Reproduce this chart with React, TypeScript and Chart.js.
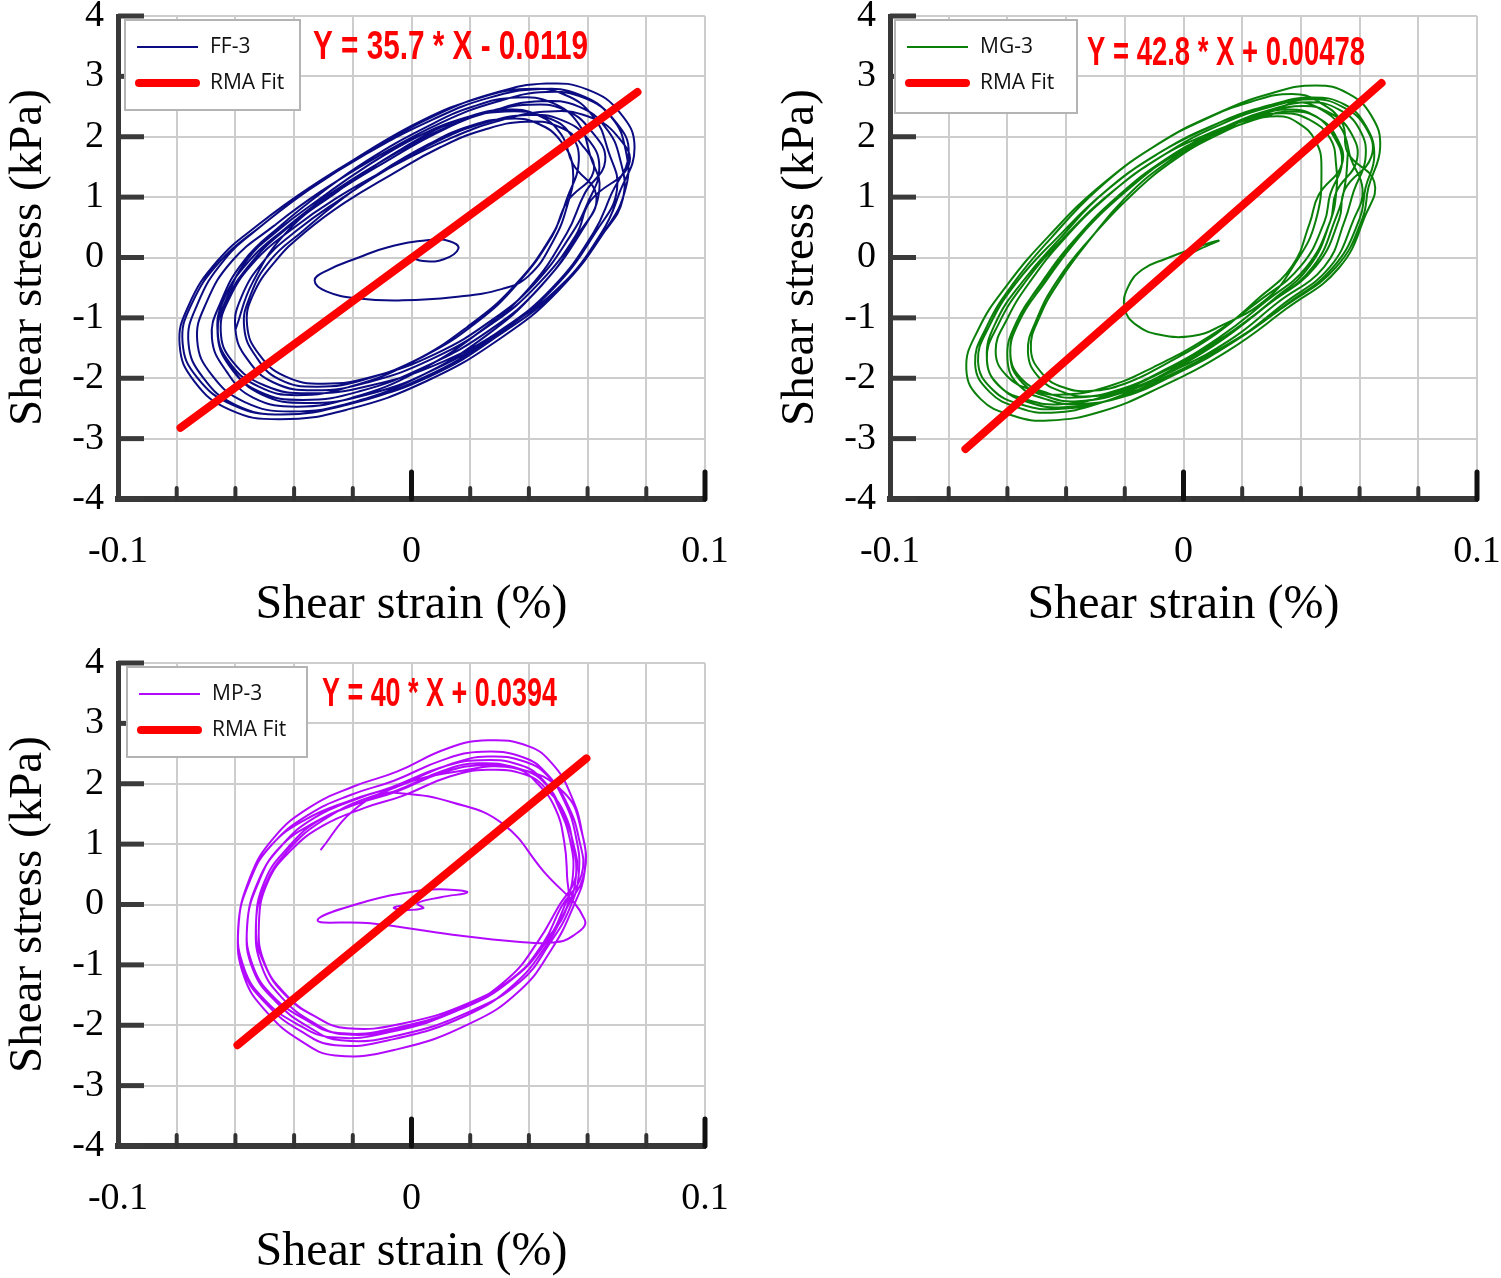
import React, { useEffect, useRef } from "react";
import { Chart, registerables } from "chart.js";

Chart.register(...registerables);

// ---------- axis ticks ----------
const xTickLabels = [-0.1, 0, 0.1];
const yTickValues = [-4, -3, -2, -1, 0, 1, 2, 3, 4];
const xMinorStubs = [-0.08, -0.06, -0.04, -0.02, 0.02, 0.04, 0.06, 0.08];
const xMajorStubs = [0, 0.1];

// ---------- FF-3 ----------
const ff3Start = [[0.0,0.0],[0.004,-0.06],[0.011,-0.03],[0.016,0.15],[0.013,0.27],[0.006,0.29],[-0.008,0.17],[-0.018,0.0],[-0.029,-0.22],[-0.033,-0.38],[-0.029,-0.56],[-0.018,-0.68],[-0.003,-0.71],[0.014,-0.66],[0.031,-0.52],[0.040,-0.30],[0.048,0.25],[0.053,0.85]];
const ff3Loop1 = [[0.076,1.82],[0.071,2.40],[0.060,2.78],[0.046,2.88],[0.028,2.72],[0.008,2.35],[-0.015,1.75],[-0.035,1.15],[-0.052,0.55],[-0.066,-0.05],[-0.076,-0.80],[-0.079,-1.45],[-0.074,-2.05],[-0.062,-2.52],[-0.045,-2.68],[-0.022,-2.52],[0.005,-2.05],[0.030,-1.35],[0.050,-0.55],[0.066,0.45],[0.073,1.15]];
const ff3Loop2 = [[0.074,1.73],[0.069,2.28],[0.059,2.64],[0.046,2.74],[0.029,2.58],[0.010,2.23],[-0.012,1.66],[-0.031,1.09],[-0.047,0.52],[-0.061,-0.05],[-0.070,-0.76],[-0.073,-1.38],[-0.068,-1.95],[-0.057,-2.39],[-0.041,-2.55],[-0.019,-2.39],[0.007,-1.95],[0.030,-1.28],[0.050,-0.52],[0.065,0.43],[0.071,1.09]];
const ff3Loop3 = [[0.067,1.77],[0.062,2.33],[0.052,2.70],[0.039,2.79],[0.023,2.64],[0.004,2.28],[-0.017,1.70],[-0.035,1.12],[-0.051,0.53],[-0.064,-0.05],[-0.073,-0.78],[-0.076,-1.41],[-0.071,-1.99],[-0.060,-2.44],[-0.044,-2.60],[-0.023,-2.44],[0.002,-1.99],[0.025,-1.31],[0.043,-0.53],[0.058,0.44],[0.064,1.12]];
const ff3Loop4 = [[0.071,1.64],[0.066,2.16],[0.057,2.50],[0.044,2.59],[0.029,2.45],[0.011,2.12],[-0.009,1.58],[-0.027,1.04],[-0.042,0.50],[-0.054,-0.05],[-0.063,-0.72],[-0.066,-1.31],[-0.061,-1.85],[-0.051,-2.27],[-0.036,-2.41],[-0.015,-2.27],[0.008,-1.85],[0.030,-1.22],[0.048,-0.50],[0.062,0.41],[0.068,1.04]];
const ff3Loop5 = [[0.066,1.60],[0.061,2.11],[0.052,2.45],[0.040,2.53],[0.025,2.39],[0.008,2.07],[-0.012,1.54],[-0.029,1.01],[-0.043,0.48],[-0.055,-0.04],[-0.064,-0.70],[-0.066,-1.28],[-0.062,-1.80],[-0.052,-2.22],[-0.037,-2.36],[-0.018,-2.22],[0.005,-1.80],[0.027,-1.19],[0.044,-0.48],[0.057,0.40],[0.063,1.01]];
const ff3Loop6 = [[0.064,1.49],[0.060,1.97],[0.051,2.28],[0.040,2.36],[0.025,2.23],[0.009,1.93],[-0.009,1.44],[-0.025,0.94],[-0.039,0.45],[-0.050,-0.04],[-0.058,-0.66],[-0.060,-1.19],[-0.056,-1.68],[-0.047,-2.07],[-0.033,-2.20],[-0.015,-2.07],[0.007,-1.68],[0.027,-1.11],[0.043,-0.45],[0.056,0.37],[0.061,0.94]];
const ff3Loop7 = [[0.055,1.55],[0.051,2.04],[0.043,2.36],[0.032,2.45],[0.018,2.31],[0.002,2.00],[-0.016,1.49],[-0.031,0.98],[-0.045,0.47],[-0.056,-0.04],[-0.063,-0.68],[-0.066,-1.23],[-0.062,-1.74],[-0.052,-2.14],[-0.039,-2.28],[-0.021,-2.14],[0.000,-1.74],[0.019,-1.15],[0.035,-0.47],[0.048,0.38],[0.053,0.98]];
const ff3Loop8 = [[0.055,1.46],[0.051,1.92],[0.043,2.22],[0.033,2.30],[0.020,2.18],[0.006,1.88],[-0.011,1.40],[-0.025,0.92],[-0.037,0.44],[-0.048,-0.04],[-0.055,-0.64],[-0.057,-1.16],[-0.053,-1.64],[-0.045,-2.02],[-0.032,-2.14],[-0.016,-2.02],[0.004,-1.64],[0.022,-1.08],[0.036,-0.44],[0.048,0.36],[0.053,0.92]];
const ff3Loop9 = [[0.073,1.77],[0.068,2.33],[0.057,2.70],[0.044,2.79],[0.026,2.64],[0.007,2.28],[-0.016,1.70],[-0.035,1.12],[-0.051,0.53],[-0.065,-0.05],[-0.075,-0.78],[-0.078,-1.41],[-0.073,-1.99],[-0.061,-2.44],[-0.045,-2.60],[-0.022,-2.44],[0.004,-1.99],[0.028,-1.31],[0.048,-0.53],[0.063,0.44],[0.070,1.12]];
const ff3Loop10 = [[0.074,1.53],[0.070,2.02],[0.060,2.34],[0.047,2.42],[0.031,2.28],[0.013,1.97],[-0.008,1.47],[-0.026,0.97],[-0.041,0.46],[-0.053,-0.04],[-0.062,-0.67],[-0.065,-1.22],[-0.061,-1.72],[-0.050,-2.12],[-0.035,-2.25],[-0.014,-2.12],[0.011,-1.72],[0.033,-1.13],[0.051,-0.46],[0.065,0.38],[0.072,0.97]];
const ff3Loop11 = [[0.061,1.67],[0.057,2.21],[0.048,2.56],[0.036,2.65],[0.021,2.50],[0.005,2.16],[-0.015,1.61],[-0.031,1.06],[-0.045,0.51],[-0.057,-0.05],[-0.065,-0.74],[-0.068,-1.33],[-0.063,-1.89],[-0.054,-2.32],[-0.039,-2.47],[-0.020,-2.32],[0.002,-1.89],[0.023,-1.24],[0.040,-0.51],[0.053,0.41],[0.059,1.06]];
const ff3Loop12 = [[0.062,1.42],[0.058,1.87],[0.050,2.17],[0.039,2.25],[0.025,2.12],[0.010,1.83],[-0.007,1.37],[-0.023,0.90],[-0.036,0.43],[-0.046,-0.04],[-0.054,-0.62],[-0.056,-1.13],[-0.052,-1.60],[-0.043,-1.97],[-0.030,-2.09],[-0.013,-1.97],[0.008,-1.60],[0.027,-1.05],[0.042,-0.43],[0.054,0.35],[0.060,0.90]];
const ff3End = [[0.057,1.60],[0.054,2.05],[0.046,2.32],[0.032,2.42],[0.015,2.25],[-0.005,1.75],[-0.025,1.10],[-0.042,0.45],[-0.054,-0.40],[-0.060,-1.20]];
const ff3Fit = [[-0.0787,-2.82],[0.077,2.74]];

// ---------- MG-3 ----------
const mg3Start = [[0.0,0.0],[0.006,0.15],[0.012,0.28],[0.004,0.16],[-0.006,-0.02],[-0.014,-0.20],[-0.019,-0.50],[-0.020,-0.85],[-0.016,-1.12],[-0.008,-1.28],[0.003,-1.30],[0.012,-1.15],[0.028,-0.70],[0.038,-0.10],[0.045,0.60]];
const mg3Loop1 = [[0.067,1.82],[0.064,2.35],[0.056,2.72],[0.045,2.85],[0.030,2.72],[0.012,2.40],[-0.008,1.90],[-0.028,1.20],[-0.046,0.35],[-0.060,-0.45],[-0.070,-1.20],[-0.074,-1.85],[-0.069,-2.35],[-0.058,-2.62],[-0.046,-2.70],[-0.028,-2.55],[-0.008,-2.15],[0.015,-1.55],[0.035,-0.85],[0.053,-0.17],[0.062,0.70],[0.065,1.25]];
const mg3Loop2 = [[0.064,1.67],[0.062,2.16],[0.054,2.50],[0.044,2.62],[0.030,2.50],[0.013,2.21],[-0.005,1.75],[-0.024,1.10],[-0.041,0.32],[-0.054,-0.41],[-0.063,-1.10],[-0.067,-1.70],[-0.062,-2.16],[-0.052,-2.41],[-0.041,-2.48],[-0.024,-2.35],[-0.005,-1.98],[0.016,-1.43],[0.035,-0.78],[0.051,-0.16],[0.060,0.64],[0.062,1.15]];
const mg3Loop3 = [[0.057,1.64],[0.054,2.12],[0.047,2.45],[0.038,2.57],[0.024,2.45],[0.009,2.16],[-0.009,1.71],[-0.027,1.08],[-0.042,0.32],[-0.055,-0.41],[-0.064,-1.08],[-0.067,-1.67],[-0.063,-2.12],[-0.053,-2.36],[-0.042,-2.43],[-0.027,-2.30],[-0.009,-1.94],[0.011,-1.40],[0.029,-0.77],[0.045,-0.15],[0.053,0.63],[0.055,1.13]];
const mg3Loop4 = [[0.059,1.60],[0.057,2.07],[0.050,2.39],[0.041,2.51],[0.028,2.39],[0.013,2.11],[-0.004,1.67],[-0.021,1.06],[-0.036,0.31],[-0.047,-0.40],[-0.056,-1.06],[-0.059,-1.63],[-0.055,-2.07],[-0.046,-2.31],[-0.036,-2.38],[-0.021,-2.24],[-0.004,-1.89],[0.016,-1.36],[0.032,-0.75],[0.048,-0.15],[0.055,0.62],[0.058,1.10]];
const mg3Loop5 = [[0.054,1.57],[0.051,2.02],[0.045,2.34],[0.036,2.45],[0.024,2.34],[0.010,2.06],[-0.006,1.63],[-0.022,1.03],[-0.037,0.30],[-0.048,-0.39],[-0.056,-1.03],[-0.059,-1.59],[-0.055,-2.02],[-0.046,-2.25],[-0.037,-2.32],[-0.022,-2.19],[-0.006,-1.85],[0.012,-1.33],[0.028,-0.73],[0.042,-0.15],[0.050,0.60],[0.052,1.08]];
const mg3Loop6 = [[0.054,1.55],[0.052,2.00],[0.046,2.31],[0.037,2.42],[0.026,2.31],[0.012,2.04],[-0.003,1.62],[-0.018,1.02],[-0.032,0.30],[-0.043,-0.38],[-0.050,-1.02],[-0.053,-1.57],[-0.049,-2.00],[-0.041,-2.23],[-0.032,-2.30],[-0.018,-2.17],[-0.003,-1.83],[0.014,-1.32],[0.030,-0.72],[0.043,-0.14],[0.050,0.60],[0.052,1.06]];
const mg3Loop7 = [[0.056,1.73],[0.054,2.23],[0.046,2.58],[0.037,2.71],[0.023,2.58],[0.007,2.28],[-0.011,1.81],[-0.029,1.14],[-0.045,0.33],[-0.058,-0.43],[-0.067,-1.14],[-0.071,-1.76],[-0.066,-2.23],[-0.056,-2.49],[-0.045,-2.57],[-0.029,-2.42],[-0.011,-2.04],[0.010,-1.47],[0.028,-0.81],[0.044,-0.16],[0.052,0.67],[0.055,1.19]];
const mg3Loop8 = [[0.047,1.49],[0.045,1.93],[0.039,2.23],[0.032,2.34],[0.021,2.23],[0.008,1.97],[-0.006,1.56],[-0.020,0.98],[-0.032,0.29],[-0.042,-0.37],[-0.049,-0.98],[-0.052,-1.52],[-0.048,-1.93],[-0.041,-2.15],[-0.032,-2.21],[-0.020,-2.09],[-0.006,-1.76],[0.011,-1.27],[0.025,-0.70],[0.037,-0.14],[0.043,0.57],[0.046,1.03]];
const mg3Loop9 = [[0.065,1.69],[0.062,2.19],[0.055,2.53],[0.044,2.65],[0.030,2.53],[0.012,2.23],[-0.007,1.77],[-0.026,1.12],[-0.043,0.33],[-0.057,-0.42],[-0.066,-1.12],[-0.070,-1.72],[-0.065,-2.19],[-0.055,-2.44],[-0.043,-2.51],[-0.026,-2.37],[-0.007,-2.00],[0.015,-1.44],[0.035,-0.79],[0.052,-0.16],[0.061,0.65],[0.063,1.16]];
const mg3Loop10 = [[0.052,1.53],[0.050,1.97],[0.043,2.28],[0.034,2.39],[0.022,2.28],[0.007,2.02],[-0.010,1.60],[-0.026,1.01],[-0.041,0.29],[-0.052,-0.38],[-0.060,-1.01],[-0.064,-1.55],[-0.060,-1.97],[-0.051,-2.20],[-0.041,-2.27],[-0.026,-2.14],[-0.010,-1.81],[0.009,-1.30],[0.026,-0.71],[0.040,-0.14],[0.048,0.59],[0.050,1.05]];
const mg3Loop11 = [[0.062,1.64],[0.060,2.12],[0.053,2.45],[0.043,2.57],[0.030,2.45],[0.014,2.16],[-0.003,1.71],[-0.020,1.08],[-0.036,0.32],[-0.048,-0.41],[-0.057,-1.08],[-0.060,-1.67],[-0.056,-2.12],[-0.046,-2.36],[-0.036,-2.43],[-0.020,-2.30],[-0.003,-1.94],[0.017,-1.40],[0.034,-0.77],[0.050,-0.15],[0.058,0.63],[0.061,1.13]];
const mg3End = [[0.056,1.73]];
const mg3Fit = [[-0.0743,-3.17],[0.0675,2.89]];

// ---------- MP-3 ----------
const mp3Start = [[0.0,0.0],[-0.006,-0.05],[-0.003,-0.09],[0.004,-0.06],[0.002,0.02],[0.010,0.12],[0.019,0.20],[0.012,0.25],[0.003,0.23],[-0.014,0.07],[-0.032,-0.26],[-0.014,-0.31],[0.014,-0.50],[0.037,-0.62],[0.048,-0.63],[0.055,-0.52],[0.059,-0.25],[0.045,0.55],[0.031,1.34],[0.014,1.69],[-0.003,1.84],[-0.013,1.80],[-0.030,1.40],[-0.042,0.90],[-0.050,0.30],[-0.053,-0.40],[-0.050,-1.00],[-0.043,-1.50],[-0.033,-1.85],[-0.022,-2.05],[-0.003,-1.97],[0.020,-1.62],[0.036,-1.16],[0.046,-0.59],[0.053,-0.04]];
const mp3Loop1 = [[0.059,0.55],[0.058,1.22],[0.054,1.85],[0.048,2.33],[0.040,2.62],[0.026,2.72],[0.012,2.58],[-0.005,2.20],[-0.020,1.95],[-0.035,1.60],[-0.047,1.10],[-0.055,0.45],[-0.059,-0.40],[-0.057,-1.20],[-0.049,-1.80],[-0.038,-2.25],[-0.026,-2.50],[-0.005,-2.40],[0.020,-1.97],[0.037,-1.42],[0.048,-0.72],[0.055,-0.05]];
const mp3Loop2 = [[0.056,0.47],[0.055,1.04],[0.051,1.57],[0.046,1.98],[0.038,2.23],[0.025,2.31],[0.011,2.19],[-0.005,1.87],[-0.019,1.66],[-0.033,1.36],[-0.045,0.94],[-0.052,0.38],[-0.056,-0.34],[-0.054,-1.02],[-0.047,-1.53],[-0.036,-1.91],[-0.025,-2.13],[-0.005,-2.04],[0.019,-1.67],[0.035,-1.21],[0.046,-0.61],[0.052,-0.04]];
const mp3Loop3 = [[0.055,0.48],[0.054,1.07],[0.050,1.63],[0.045,2.05],[0.037,2.31],[0.023,2.39],[0.010,2.27],[-0.007,1.94],[-0.021,1.72],[-0.036,1.41],[-0.048,0.97],[-0.055,0.40],[-0.059,-0.35],[-0.057,-1.06],[-0.050,-1.58],[-0.039,-1.98],[-0.027,-2.20],[-0.007,-2.11],[0.017,-1.73],[0.034,-1.25],[0.045,-0.63],[0.051,-0.04]];
const mp3Loop4 = [[0.056,0.45],[0.055,1.00],[0.052,1.52],[0.046,1.91],[0.039,2.15],[0.026,2.23],[0.013,2.12],[-0.003,1.80],[-0.016,1.60],[-0.030,1.31],[-0.041,0.90],[-0.049,0.37],[-0.052,-0.33],[-0.050,-0.98],[-0.043,-1.48],[-0.033,-1.85],[-0.022,-2.05],[-0.003,-1.97],[0.020,-1.62],[0.036,-1.16],[0.046,-0.59],[0.053,-0.04]];
const mp3Loop5 = [[0.058,0.50],[0.057,1.10],[0.053,1.67],[0.047,2.10],[0.039,2.36],[0.026,2.45],[0.013,2.32],[-0.004,1.98],[-0.018,1.76],[-0.033,1.44],[-0.044,0.99],[-0.052,0.41],[-0.056,-0.36],[-0.054,-1.08],[-0.046,-1.62],[-0.035,-2.03],[-0.024,-2.25],[-0.004,-2.16],[0.020,-1.77],[0.037,-1.28],[0.047,-0.65],[0.054,-0.05]];
const mp3Loop6 = [[0.053,0.47],[0.052,1.05],[0.049,1.59],[0.043,2.00],[0.036,2.25],[0.023,2.34],[0.011,2.22],[-0.005,1.89],[-0.018,1.68],[-0.032,1.38],[-0.042,0.95],[-0.050,0.39],[-0.053,-0.34],[-0.051,-1.03],[-0.044,-1.55],[-0.034,-1.94],[-0.023,-2.15],[-0.005,-2.06],[0.018,-1.69],[0.033,-1.22],[0.043,-0.62],[0.050,-0.04]];
const mp3Loop7 = [[0.057,0.51],[0.056,1.13],[0.052,1.72],[0.046,2.17],[0.038,2.44],[0.024,2.53],[0.011,2.40],[-0.006,2.05],[-0.021,1.81],[-0.035,1.49],[-0.047,1.02],[-0.055,0.42],[-0.059,-0.37],[-0.057,-1.12],[-0.049,-1.67],[-0.038,-2.09],[-0.026,-2.33],[-0.006,-2.23],[0.019,-1.83],[0.035,-1.32],[0.046,-0.67],[0.053,-0.05]];
const mp3End = [[0.059,0.55],[0.058,1.20],[0.052,1.85],[0.036,2.25],[0.015,2.20],[-0.005,1.95],[-0.020,1.55],[-0.031,0.90]];
const mp3Fit = [[-0.0593,-2.33],[0.0596,2.42]];

const ff3Path = [...ff3Start, ...ff3Loop8, ...ff3Loop12, ...ff3Loop6, ...ff3Loop10, ...ff3Loop4, ...ff3Loop2, ...ff3Loop1, ...ff3Loop9, ...ff3Loop3, ...ff3Loop11, ...ff3Loop5, ...ff3Loop7, ...ff3End];
const mg3Path = [...mg3Start, ...mg3Loop8, ...mg3Loop6, ...mg3Loop10, ...mg3Loop5, ...mg3Loop4, ...mg3Loop11, ...mg3Loop3, ...mg3Loop2, ...mg3Loop9, ...mg3Loop1, ...mg3Loop7, ...mg3End];
const mp3Path = [...mp3Start, ...mp3Loop4, ...mp3Loop6, ...mp3Loop2, ...mp3Loop3, ...mp3Loop5, ...mp3Loop7, ...mp3Loop1, ...mp3End];

const SERIF = "'Liberation Serif', 'Times New Roman', serif";

type PanelCfg = {
  name: string;
  color: string;
  path: number[][];
  fit: number[][];
  equation: string;
  eqX: number; eqY: number; eqW: number;
  legendDX: number; legendW: number; legendH: number;
};

const panels: { left: number; top: number; cfg: PanelCfg }[] = [
  { left: 0, top: 0, cfg: { name: "FF-3", color: "#0b0b82", path: ff3Path, fit: ff3Fit, equation: "Y = 35.7 * X - 0.0119", eqX: 195, eqY: 30, eqW: 275, legendDX: 7, legendW: 175, legendH: 90 } },
  { left: 772, top: 0, cfg: { name: "MG-3", color: "#0a800a", path: mg3Path, fit: mg3Fit, equation: "Y = 42.8 * X + 0.00478", eqX: 197, eqY: 36, eqW: 278, legendDX: 5, legendW: 182, legendH: 93 } },
  { left: 0, top: 647, cfg: { name: "MP-3", color: "#b30aff", path: mp3Path, fit: mp3Fit, equation: "Y = 40 * X + 0.0394", eqX: 204, eqY: 30, eqW: 235, legendDX: 9, legendW: 180, legendH: 90 } },
];

function makeDecor(cfg: PanelCfg) {
  return {
    id: "decor",
    afterDraw(chart: any) {
      const { ctx, chartArea: a, scales } = chart;
      const xs = scales.x, ys = scales.y;
      ctx.save();
      ctx.strokeStyle = "#3a3a3a";
      ctx.lineWidth = 5;
      ctx.lineCap = "butt";
      for (const v of yTickValues) {
        const py = ys.getPixelForValue(v);
        ctx.beginPath(); ctx.moveTo(a.left, py); ctx.lineTo(a.left + 26, py); ctx.stroke();
      }
      ctx.lineWidth = 4;
      ctx.lineCap = "round";
      ctx.strokeStyle = "#333";
      for (const v of xMinorStubs) {
        const px = xs.getPixelForValue(v);
        ctx.beginPath(); ctx.moveTo(px, a.bottom); ctx.lineTo(px, a.bottom - 11); ctx.stroke();
      }
      ctx.lineWidth = 5;
      ctx.strokeStyle = "#111";
      for (const v of xMajorStubs) {
        const px = xs.getPixelForValue(v);
        ctx.beginPath(); ctx.moveTo(px, a.bottom); ctx.lineTo(px, a.bottom - 27); ctx.stroke();
      }
      // legend
      const bx = a.left + cfg.legendDX, by = a.top + 4;
      ctx.fillStyle = "#fff";
      ctx.fillRect(bx, by, cfg.legendW, cfg.legendH);
      ctx.strokeStyle = "#b4b4b4";
      ctx.lineWidth = 2;
      ctx.strokeRect(bx, by, cfg.legendW, cfg.legendH);
      ctx.lineCap = "butt";
      ctx.strokeStyle = cfg.color;
      ctx.lineWidth = 2;
      ctx.beginPath(); ctx.moveTo(bx + 12, by + 27); ctx.lineTo(bx + 73, by + 27); ctx.stroke();
      ctx.lineCap = "round";
      ctx.strokeStyle = "#ff0000";
      ctx.lineWidth = 8;
      ctx.beginPath(); ctx.moveTo(bx + 14, by + 63); ctx.lineTo(bx + 71, by + 63); ctx.stroke();
      ctx.fillStyle = "#111";
      ctx.font = "21px 'Open Sans', sans-serif";
      ctx.textBaseline = "middle";
      ctx.textAlign = "left";
      ctx.fillText(cfg.name, bx + 85, by + 27);
      ctx.fillText("RMA Fit", bx + 85, by + 63);
      // equation
      ctx.font = "bold 40px 'Liberation Sans', sans-serif";
      const w = ctx.measureText(cfg.equation).width;
      ctx.translate(a.left + cfg.eqX, a.top + cfg.eqY);
      ctx.scale(cfg.eqW / w, 1);
      ctx.fillStyle = "#ff0000";
      ctx.fillText(cfg.equation, 0, 2);
      ctx.restore();
    },
  };
}

function Panel({ left, top, cfg }: { left: number; top: number; cfg: PanelCfg }) {
  const ref = useRef<HTMLCanvasElement>(null);
  useEffect(() => {
    if (!ref.current) return;
    const chart = new Chart(ref.current, {
      type: "scatter",
      data: {
        datasets: [
          {
            label: "RMA Fit",
            data: cfg.fit.map(([x, y]) => ({ x, y })),
            showLine: true,
            borderColor: "#ff0000",
            borderWidth: 8,
            borderCapStyle: "round",
            pointRadius: 0,
            order: 0,
          },
          {
            label: cfg.name,
            data: cfg.path.map(([x, y]) => ({ x, y })),
            showLine: true,
            borderColor: cfg.color,
            borderWidth: 2,
            tension: 0.45,
            pointRadius: 0,
            order: 1,
          },
        ],
      },
      options: {
        animation: false,
        responsive: false,
        devicePixelRatio: 1,
        layout: { padding: { left: 0, right: 35, top: 16, bottom: 6 } },
        plugins: { legend: { display: false }, tooltip: { enabled: false } },
        scales: {
          x: {
            type: "linear",
            min: -0.1,
            max: 0.1,
            afterFit: (s: any) => { s.height = 135; s.paddingLeft = 0; s.paddingRight = 0; },
            ticks: {
              stepSize: 0.02,
              autoSkip: false,
              maxRotation: 0,
              padding: 30,
              color: "#000",
              font: { family: SERIF, size: 38 },
              callback: (v: any) => {
                const m = xTickLabels.find((t) => Math.abs(t - Number(v)) < 1e-6);
                return m === undefined ? "" : String(m);
              },
            },
            grid: { color: "#cdcdcd", lineWidth: 2, drawTicks: false },
            border: { display: true, color: "#383838", width: 6 },
            title: { display: true, text: "Shear strain (%)", color: "#000", font: { family: SERIF, size: 48 }, padding: 0 },
          },
          y: {
            type: "linear",
            min: -4,
            max: 4,
            afterFit: (s: any) => { s.width = 118; s.paddingTop = 0; s.paddingBottom = 0; },
            ticks: {
              stepSize: 1,
              padding: 14,
              color: "#000",
              font: { family: SERIF, size: 38 },
            },
            grid: { color: "#cdcdcd", lineWidth: 2, drawTicks: false },
            border: { display: true, color: "#383838", width: 5 },
            title: { display: true, text: "Shear stress (kPa)", color: "#000", font: { family: SERIF, size: 47 }, padding: 0 },
          },
        },
      },
      plugins: [makeDecor(cfg)],
    } as any);
    return () => chart.destroy();
  }, []);
  return (
    <canvas
      ref={ref}
      width={740}
      height={640}
      style={{ position: "absolute", left, top, width: 740, height: 640 }}
    />
  );
}

export default function App() {
  return (
    <div style={{ position: "absolute", left: 0, top: 0, width: 1501, height: 1278, background: "#fff", overflow: "hidden" }}>
      {panels.map((p) => (
        <Panel key={p.cfg.name} left={p.left} top={p.top} cfg={p.cfg} />
      ))}
    </div>
  );
}
